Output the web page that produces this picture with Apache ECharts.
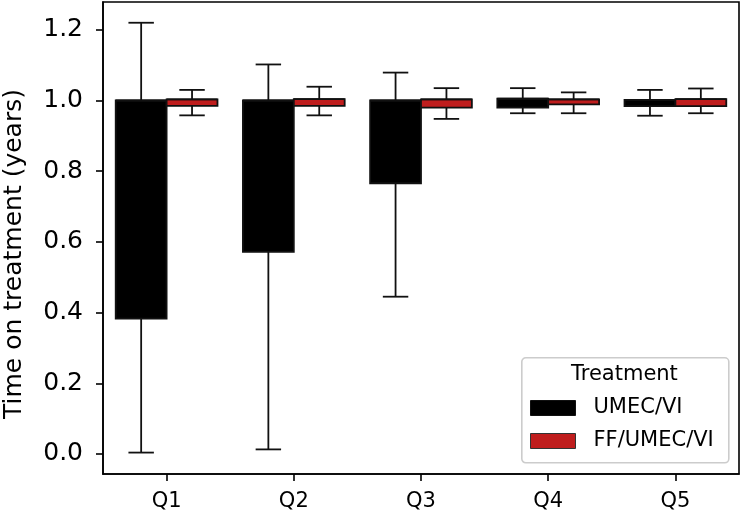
<!DOCTYPE html>
<html>
<head>
<meta charset="utf-8">
<script src="https://cdn.jsdelivr.net/npm/echarts@6/dist/echarts.min.js"></script>
<style>html,body{margin:0;padding:0;background:#fff}#c{width:742px;height:514px}</style>
</head>
<body>
<div id="c"></div>
<script>
const categories = ['Q1', 'Q2', 'Q3', 'Q4', 'Q5'];
const seriesNames = ['UMEC/VI', 'FF/UMEC/VI'];
// [min, q1, median, q3, max] per quintile
const umecVi = [
  [0.004, 0.383, 1.0, 1.0, 1.22],
  [0.013, 0.572, 1.0, 1.0, 1.102],
  [0.445, 0.766, 1.0, 1.0, 1.079],
  [0.964, 0.980, 1.005, 1.005, 1.035],
  [0.957, 0.984, 1.002, 1.002, 1.03]
];
const ffUmecVi = [
  [0.958, 0.985, 1.003, 1.003, 1.03],
  [0.958, 0.985, 1.004, 1.004, 1.039],
  [0.948, 0.980, 1.003, 1.003, 1.035],
  [0.964, 0.989, 1.003, 1.003, 1.023],
  [0.964, 0.984, 1.004, 1.004, 1.034]
];
const yTicks = [0, 0.2, 0.4, 0.6, 0.8, 1.0, 1.2];

const fills = ['#000000', '#bf1d1d'];
const edge = '#111111';
const lw = 1.8;

function makeRender(offset, fill) {
  return function (params, api) {
    const ci = api.value(0);
    const band = api.size([1, 0])[0];
    const cx = api.coord([ci, 0])[0] + offset * band;
    const w = band * 0.4;
    const yMin = api.coord([ci, api.value(1)])[1];
    const yQ1 = api.coord([ci, api.value(2)])[1];
    const yMed = api.coord([ci, api.value(3)])[1];
    const yQ3 = api.coord([ci, api.value(4)])[1];
    const yMax = api.coord([ci, api.value(5)])[1];
    const ls = { stroke: edge, lineWidth: lw };
    return {
      type: 'group',
      children: [
        { type: 'line', shape: { x1: cx, y1: yQ3, x2: cx, y2: yMax }, style: ls },
        { type: 'line', shape: { x1: cx - w / 4, y1: yMax, x2: cx + w / 4, y2: yMax }, style: ls },
        { type: 'line', shape: { x1: cx, y1: yQ1, x2: cx, y2: yMin }, style: ls },
        { type: 'line', shape: { x1: cx - w / 4, y1: yMin, x2: cx + w / 4, y2: yMin }, style: ls },
        { type: 'rect', shape: { x: cx - w / 2, y: yQ3, width: w, height: Math.max(yQ1 - yQ3, 0.5) },
          style: { fill: fill, stroke: edge, lineWidth: lw } },
        { type: 'line', shape: { x1: cx - w / 2, y1: yMed, x2: cx + w / 2, y2: yMed }, style: ls }
      ]
    };
  };
}

function toData(arr) {
  return arr.map((d, i) => [i].concat(d));
}

const chart = echarts.init(document.getElementById('c'), null, { renderer: 'canvas' });
const font = 'DejaVu Sans';
chart.setOption({
  animation: false,
  grid: { left: 103, right: 3, top: 2, bottom: 40, containLabel: false, outerBoundsMode: 'none',
    show: true, borderColor: '#000', borderWidth: 1.6, backgroundColor: 'transparent' },
  xAxis: {
    type: 'category',
    data: categories,
    boundaryGap: true,
    axisLine: { show: true, onZero: false, lineStyle: { color: '#000', width: 1.6 } },
    axisTick: { show: true, alignWithLabel: true, length: 7, lineStyle: { color: '#000', width: 1.6 } },
    axisLabel: { fontFamily: font, fontSize: 21, color: '#000', margin: 17 },
    splitLine: { show: false }
  },
  yAxis: {
    type: 'value',
    min: -0.0566,
    max: 1.2787,
    name: 'Time on treatment (years)',
    nameLocation: 'middle',
    nameGap: 76,
    nameTextStyle: { fontFamily: font, fontSize: 25, color: '#000', padding: [0, 32, 0, 0] },
    axisLine: { show: true, onZero: false, lineStyle: { color: '#000', width: 1.6 } },
    axisTick: { show: true, length: 7, customValues: yTicks, lineStyle: { color: '#000', width: 1.6 } },
    axisLabel: { fontFamily: font, fontSize: 25, color: '#000', margin: 20, customValues: yTicks,
      formatter: v => Number(v).toFixed(1) },
    splitLine: { show: false }
  },
  legend: {
    orient: 'vertical',
    left: 530,
    top: 395,
    padding: 0,
    itemWidth: 45,
    itemHeight: 15,
    itemGap: 7,
    icon: 'rect',
    textStyle: { fontFamily: font, fontSize: 21, color: '#000', lineHeight: 26, padding: [0, 0, 0, 13] },
    data: [
      { name: seriesNames[0], itemStyle: { color: fills[0], borderColor: edge, borderWidth: 1 } },
      { name: seriesNames[1], itemStyle: { color: fills[1], borderColor: '#333', borderWidth: 1 } }
    ],
    z: 10
  },
  graphic: [
    { type: 'rect', left: 521, top: 357, z: 5, shape: { width: 207, height: 105, r: 4 },
      style: { fill: 'rgba(255,255,255,0.85)', stroke: '#cccccc', lineWidth: 1.6 } },
    { type: 'text', z: 6, left: 571, top: 364, style: { text: 'Treatment', font: '21px "DejaVu Sans"', fill: '#000' } }
  ],
  series: [
    { name: seriesNames[0], type: 'custom', renderItem: makeRender(-0.2, fills[0]),
      itemStyle: { color: fills[0] }, encode: { x: 0, y: [1, 2, 3, 4, 5] }, data: toData(umecVi), z: 2 },
    { name: seriesNames[1], type: 'custom', renderItem: makeRender(0.2, fills[1]),
      itemStyle: { color: fills[1] }, encode: { x: 0, y: [1, 2, 3, 4, 5] }, data: toData(ffUmecVi), z: 2 }
  ]
});
</script>
</body>
</html>
